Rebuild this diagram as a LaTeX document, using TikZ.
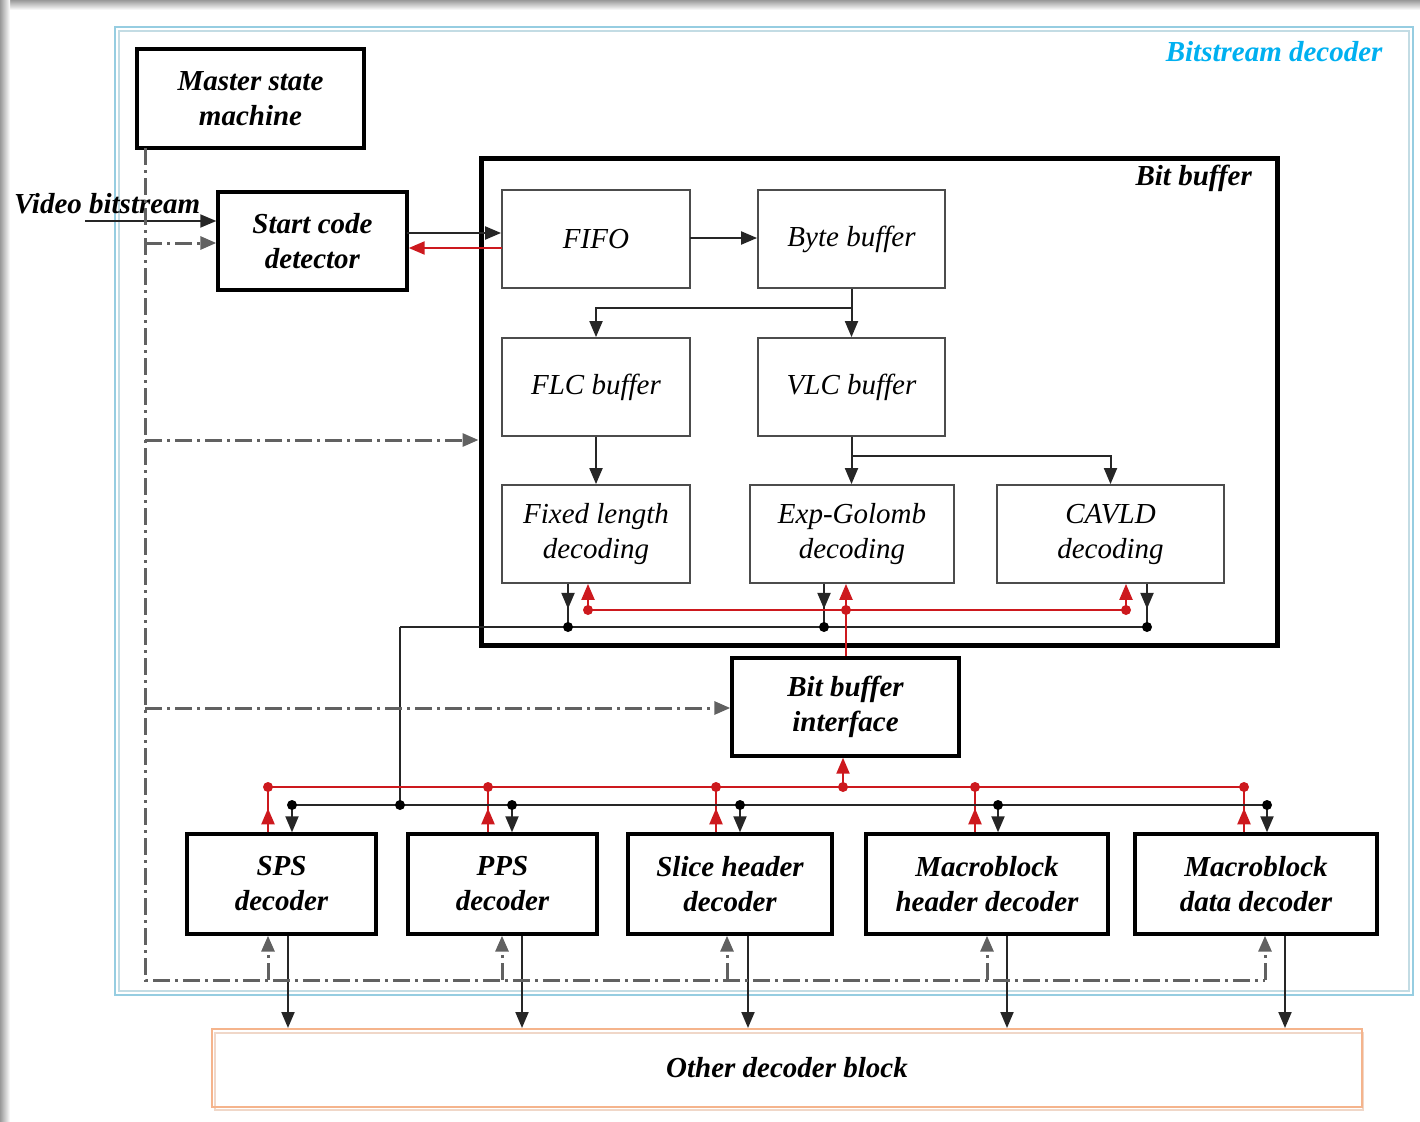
\documentclass[tikz,border=0pt]{standalone}
\usepackage{fontspec}
\setmainfont{Liberation Serif}
\usetikzlibrary{arrows.meta}
\definecolor{sigred}{RGB}{205,25,30}
\definecolor{framecyan}{RGB}{150,205,225}
\definecolor{framecyanlt}{RGB}{195,220,228}
\definecolor{titlecyan}{RGB}{0,176,240}
\definecolor{blockorange}{RGB}{245,180,140}
\definecolor{blockorangelt}{RGB}{240,215,200}
\newcommand\fsz{\fontsize{29}{35}\selectfont}
\tikzset{
  heavybox/.style={draw, line width=3.4pt, align=center, inner sep=0pt, font=\fsz\bfseries\itshape},
  lightbox/.style={draw=black!70, line width=1.8pt, align=center, inner sep=0pt, font=\fsz\itshape},
  sig/.style={line width=2pt, draw=black!85},
  rsig/.style={line width=2.2pt, draw=sigred},
  ctl/.style={line width=3pt, draw=black!62, dash pattern=on 17pt off 5pt on 3pt off 5pt},
  tip/.style={-{Triangle[length=16pt,width=13pt]}},
  bdot/.style={fill=black},
  rdot/.style={fill=sigred},
}
\begin{document}
\begin{tikzpicture}[x=1pt,y=-1pt]
\useasboundingbox (0,0) rectangle (1420,1121);
% window edge
\shade[top color=black!40, bottom color=white] (0,0) rectangle (1420,10);
\shade[left color=black!40, right color=white] (0,0) rectangle (10,1121);

% outer frame of the bitstream decoder
\draw[framecyan, line width=2.2pt] (115,27) rectangle (1413,995);
\draw[framecyanlt, line width=1.4pt] (119,31) rectangle (1409,991);
\node[anchor=east, font=\fsz\bfseries\itshape, text=titlecyan] (bdtitle) at (1386,52) {Bitstream decoder};

% other decoder block
\draw[blockorangelt, line width=2.4pt] (215,1033) rectangle (1363,1110);
\node[draw=blockorange, line width=2pt, minimum width=1150pt, minimum height=78pt, inner sep=0pt,
      font=\fsz\bfseries\itshape] (other) at (787,1068) {Other decoder block};

% control blocks
\node[heavybox, minimum width=227pt, minimum height=99pt] (msm) at (250.5,98.5) {Master state\\machine};
\node[heavybox, minimum width=189pt, minimum height=98pt] (scd) at (312.5,241) {Start code\\detector};
\node[font=\fsz\bfseries\itshape, anchor=west, inner sep=0pt] (vbs) at (14,204) {Video bitstream};

% bit buffer
\node[draw, line width=5pt, minimum width=796pt, minimum height=487pt] (bitbuf) at (879,401.5) {};
\node[anchor=east, font=\fsz\bfseries\itshape, inner sep=0pt] (bblabel) at (1252,178) {Bit buffer};
\node[lightbox, minimum width=188pt, minimum height=98pt] (fifo) at (596,239) {FIFO};
\node[lightbox, minimum width=187pt, minimum height=98pt] (byte) at (851.5,239) {Byte buffer};
\node[lightbox, minimum width=188pt, minimum height=98pt] (flc) at (596,387) {FLC buffer};
\node[lightbox, minimum width=187pt, minimum height=98pt] (vlc) at (851.5,387) {VLC buffer};
\node[lightbox, minimum width=188pt, minimum height=98pt] (fld) at (596,534) {Fixed length\\decoding};
\node[lightbox, minimum width=204pt, minimum height=98pt] (egd) at (852,534) {Exp-Golomb\\decoding};
\node[lightbox, minimum width=227pt, minimum height=98pt] (cav) at (1110.5,534) {CAVLD\\decoding};

\node[heavybox, minimum width=227pt, minimum height=98pt] (bbi) at (845.5,707) {Bit buffer\\interface};

% syntax decoders
\node[heavybox, minimum width=189pt, minimum height=100pt] (sps) at (281.5,884) {SPS\\decoder};
\node[heavybox, minimum width=189pt, minimum height=100pt] (pps) at (502.5,884) {PPS\\decoder};
\node[heavybox, minimum width=204pt, minimum height=100pt] (shd) at (730,884) {Slice header\\decoder};
\node[heavybox, minimum width=242pt, minimum height=100pt] (mbh) at (987,884) {Macroblock\\header decoder};
\node[heavybox, minimum width=242pt, minimum height=100pt] (mbd) at (1256,884) {Macroblock\\data decoder};

% ---- data path inside the bit buffer
\coordinate (vbsin) at (85,221);
\draw[sig,tip] (vbsin) -- (vbsin -| scd.west);
\coordinate (scdout) at (407,233);
\draw[sig,tip] (scdout) -- (scdout -| fifo.west);
\coordinate (scdret) at (502,248);
\draw[rsig,tip] (scdret) -- (scdret -| scd.east);
\coordinate (fb) at (690,238);
\draw[sig,tip] (fb) -- (fb -| byte.west);
\coordinate (split1) at (851.5,308);
\draw[sig] (byte.south) -- (split1);
\draw[sig,tip] (split1) -- (vlc.north);
\draw[sig,tip] (split1) -| (flc.north);
\draw[sig,tip] (flc.south) -- (fld.north);
\coordinate (split2) at (851.5,456);
\draw[sig] (vlc.south) -- (split2);
\draw[sig,tip] (split2) -- (split2 |- egd.north);
\draw[sig,tip] (split2) -| (cav.north);

% black result bus from the decoding units
\coordinate (bk1) at (568,627);
\coordinate (bk2) at (824,627);
\coordinate (bk3) at (1147,627);
\coordinate (bkL) at (400,627);
\coordinate (bkB) at (400,805);
\draw[sig] (bkL) -- (bk3);
\draw[sig] (bkL) -- (bkB);
\foreach \p/\n in {bk1/fld, bk2/egd, bk3/cav}{
  \draw[sig] (\p |- \n.south) -- (\p);
  \draw[sig,tip] (\p |- \n.south) -- ++(0,25);
  \fill[bdot] (\p) circle (5);
}

% red request bus to the decoding units
\coordinate (rd1) at (588,610);
\coordinate (rd2) at (846,610);
\coordinate (rd3) at (1126,610);
\draw[rsig] (rd1) -- (rd3);
\draw[rsig] (rd2) -- (rd2 |- bbi.north);
\foreach \p/\n in {rd1/fld, rd2/egd, rd3/cav}{
  \draw[rsig,tip] (\p) -- (\p |- \n.south);
  \fill[rdot] (\p) circle (5);
}

% red request bus from the syntax decoders
\coordinate (rb0) at (843,787);
\coordinate (rbS) at (268,787);
\coordinate (rbP) at (488,787);
\coordinate (rbH) at (716,787);
\coordinate (rbM) at (975,787);
\coordinate (rbD) at (1244,787);
\draw[rsig] (rbS) -- (rbD);
\draw[rsig,tip] (rb0) -- (rb0 |- bbi.south);
\fill[rdot] (rb0) circle (5);
\foreach \p/\n in {rbS/sps, rbP/pps, rbH/shd, rbM/mbh, rbD/mbd}{
  \draw[rsig] (\p |- \n.north) -- (\p);
  \draw[rsig,tip] (\p |- \n.north) -- ++(0,-24);
  \fill[rdot] (\p) circle (5);
}

% black data bus to the syntax decoders
\coordinate (kbS) at (292,805);
\coordinate (kbP) at (512,805);
\coordinate (kbH) at (740,805);
\coordinate (kbM) at (998,805);
\coordinate (kbD) at (1267,805);
\draw[sig] (kbS) -- (kbD);
\fill[bdot] (bkB) circle (5);
\foreach \p/\n in {kbS/sps, kbP/pps, kbH/shd, kbM/mbh, kbD/mbd}{
  \draw[sig,tip] (\p) -- (\p |- \n.north);
  \fill[bdot] (\p) circle (5);
}

% outputs to the other decoder block
\coordinate (oS) at (288,0);
\coordinate (oP) at (522,0);
\coordinate (oH) at (748,0);
\coordinate (oM) at (1007,0);
\coordinate (oD) at (1285,0);
\foreach \p/\n in {oS/sps, oP/pps, oH/shd, oM/mbh, oD/mbd}{
  \draw[sig,tip] (\n.south -| \p) -- (other.north -| \p);
}

% control lines from the master state machine
\coordinate (c0) at (145,148);
\coordinate (c1) at (145,243);
\coordinate (c2) at (145,440);
\coordinate (c3) at (145,708);
\coordinate (c4) at (145,980);
\coordinate (cS) at (268,980);
\coordinate (cP) at (502,980);
\coordinate (cH) at (727,980);
\coordinate (cM) at (987,980);
\coordinate (cD) at (1265,980);
\draw[ctl] (c0) -- (c4) -- (cD);
\draw[ctl,tip] (c1) -- (c1 -| scd.west);
\draw[ctl,tip] (c2) -- (c2 -| bitbuf.west);
\draw[ctl,tip] (c3) -- (c3 -| bbi.west);
\foreach \p/\n in {cS/sps, cP/pps, cH/shd, cM/mbh, cD/mbd}{
  \draw[ctl,tip] (\p) -- (\p |- \n.south);
}
\end{tikzpicture}
\end{document}
